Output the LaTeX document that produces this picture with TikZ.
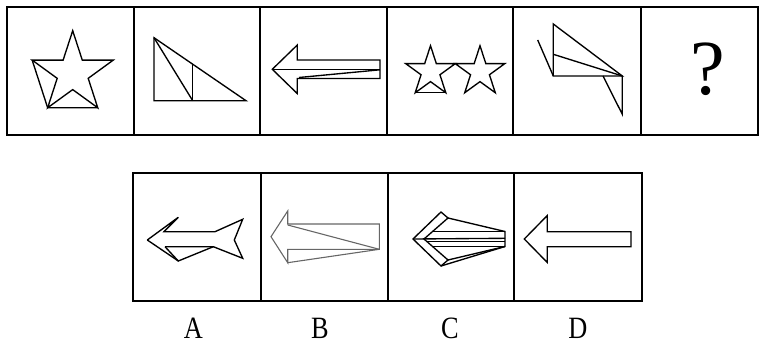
\documentclass[tikz,border=0pt]{standalone}
\usepackage{fontspec}
\newfontfamily\lblfont{Liberation Serif}
\begin{document}
\begin{tikzpicture}[x=1pt,y=-1pt,
  frame/.style={line width=1.9pt},
  fig/.style={line width=1.35pt, line join=miter},
  figgray/.style={line width=1.1pt, draw=black!60, line join=miter},
  lbl/.style={font=\lblfont\fontsize{31}{31}\selectfont, anchor=base, inner sep=0pt}]
\useasboundingbox (0,0) rectangle (761,342);
% ---- top row frame
\draw[frame] (7,7) rectangle (758,135);
\foreach \x in {134,260,387,513,641} \draw[frame] (\x,7) -- (\x,135);
% ---- bottom row frame
\draw[frame] (133,173) rectangle (642,301);
\foreach \x in {261,388,514} \draw[frame] (\x,173) -- (\x,301);

% ---- cell 1: star with closing lines
\begin{scope}[shift={(72.7,73.3)}]
  \draw[fig] (-90:42.6) -- (-54:16.3) -- (-18:42.6) -- (18:16.3) -- (54:42.6) -- (90:16.3) -- (126:42.6) -- (162:16.3) -- (198:42.6) -- (234:16.3) -- cycle;
  \draw[fig] (198:42.6) -- (126:42.6) -- (54:42.6);
\end{scope}

% ---- cell 2: right triangle
\draw[fig] (154,37.7) -- (154,100.7) -- (246,100.7) -- cycle;
\draw[fig] (154,37.7) -- (192.7,100.7);
\draw[fig] (192.7,64.2) -- (192.7,100.7);

% ---- cell 3: arrow
\draw[fig] (272.3,69.3) -- (297.3,45) -- (297.3,60) -- (380,60) -- (380,78.5) -- (297.3,78.5) -- (297.3,93.6) -- cycle;
\draw[fig] (272.3,69.3) -- (380,69.3);
\draw[fig] (299,77.5) -- (380,69.8);

% ---- cell 4: two stars
\begin{scope}[shift={(430.5,71.7)}]
  \draw[fig] (-90:26) -- (-54:9.93) -- (-18:26) -- (18:9.93) -- (54:26) -- (90:9.93) -- (126:26) -- (162:9.93) -- (198:26) -- (234:9.93) -- cycle;
  \draw[fig] (126:26) -- (54:26);
\end{scope}
\begin{scope}[shift={(480,71.7)}]
  \draw[fig] (-90:26) -- (-54:9.93) -- (-18:26) -- (18:9.93) -- (54:26) -- (90:9.93) -- (126:26) -- (162:9.93) -- (198:26) -- (234:9.93) -- cycle;
\end{scope}

% ---- cell 5: folded figure
\draw[fig] (553.3,24) -- (553.3,76) -- (622.3,76) -- cycle;
\draw[fig] (553.3,54.3) -- (622.3,76);
\draw[fig] (537.7,40) -- (553.3,76);
\draw[fig] (603,76) -- (622.3,114.3) -- (622.3,76);

% ---- cell 6: question mark
\node[anchor=base, inner sep=0pt] (q) at (708,94.5) {\lblfont\fontsize{78}{78}\selectfont ?};

% ---- option A
\draw[fig] (147.3,240) -- (178.3,217.3) -- (164,231.7) -- (215,231.7) -- (242.7,219.3) -- (234.3,240) -- (242.7,258.3) -- (213.3,246.7) -- (165,246.7);
\draw[fig] (147.3,240) -- (178.3,261) -- (213.3,246.7);
\draw[fig] (165,246.7) -- (178.3,261);

% ---- option B
\draw[figgray] (271,236.7) -- (287.7,211) -- (287.7,224) -- (379.3,224) -- (379.3,249.3) -- (287.7,249.3) -- (287.7,262.7) -- cycle;
\draw[figgray] (287.7,225) -- (379.3,249.3);
\draw[figgray] (287.7,262.7) -- (379.3,249.3);

% ---- option C
\draw[fig] (413,239) -- (441,212) -- (448,218) -- (424,239) -- (448,260) -- (441,266) -- cycle;
\draw[fig] (448,218) -- (505,231.5) -- (505,246.5) -- (448,260);
\draw[fig] (441,266) -- (505,246.5);
\draw[fig] (432.6,231.5) -- (505,231.5);
\draw[fig] (432.6,246.5) -- (505,246.5);
\draw[fig] (413,239) -- (505,238.3);
\draw[fig] (426,241.8) -- (505,241.8);

% ---- option D
\draw[fig] (524.3,239) -- (547.3,215.5) -- (547.3,231.7) -- (631,231.7) -- (631,246.7) -- (547.3,246.7) -- (547.3,262.5) -- cycle;

% ---- labels
\node[lbl] (la) at (193.3,338) {\scalebox{0.85}[1]{A}};
\node[lbl] (lb) at (320,338) {\scalebox{0.85}[1]{B}};
\node[lbl] (lc) at (450,338) {\scalebox{0.85}[1]{C}};
\node[lbl] (ld) at (578,338) {\scalebox{0.85}[1]{D}};
\end{tikzpicture}
\end{document}
